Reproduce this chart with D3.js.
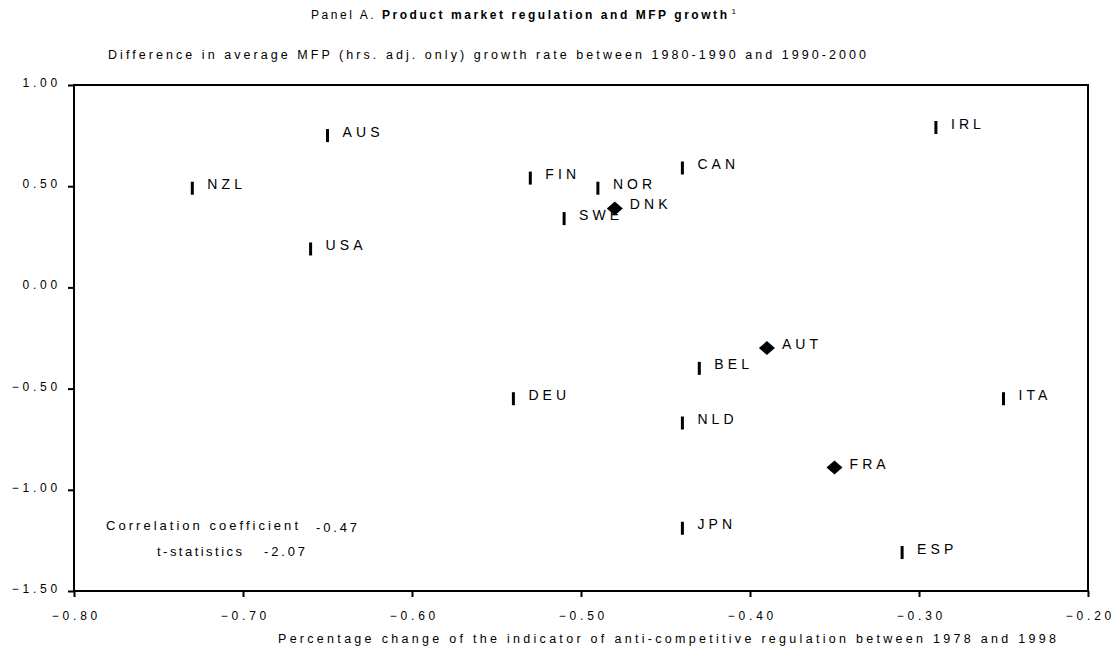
<!DOCTYPE html>
<html><head><meta charset="utf-8">
<script src="https://cdn.jsdelivr.net/npm/d3@7"></script>
<style>
body{margin:0;background:#fff;}
text{font-family:"Liberation Sans",Arial,sans-serif;fill:#000;}
</style></head>
<body><svg id="c" width="1115" height="651"></svg>
<script>
const countries = ["NZL","AUS","USA","FIN","NOR","CAN","SWE","DNK","IRL","AUT","BEL","NLD","DEU","ITA","FRA","JPN","ESP"];
const regChange = [-0.73,-0.65,-0.66,-0.53,-0.49,-0.44,-0.51,-0.48,-0.29,-0.39,-0.43,-0.44,-0.54,-0.25,-0.35,-0.44,-0.31];
const mfpDiff   = [0.49,0.75,0.19,0.54,0.49,0.59,0.34,0.39,0.79,-0.30,-0.40,-0.67,-0.55,-0.55,-0.89,-1.19,-1.31];
const markerType = ["bar","bar","bar","bar","bar","bar","bar","diamond","bar","diamond","bar","bar","bar","bar","diamond","bar","bar"];
const xTicks = [-0.8,-0.7,-0.6,-0.5,-0.4,-0.3,-0.2];
const yTicks = [1.0,0.5,0.0,-0.5,-1.0,-1.5];
const statLabels = ["Correlation coefficient","t-statistics"];
const statValues = ["-0.47","-2.07"];

const svg = d3.select("#c");
const L=74,R=1088,T=85,B=591;
const x = d3.scaleLinear().domain([-0.8,-0.2]).range([L,R]);
const y = d3.scaleLinear().domain([-1.5,1.0]).range([B,T]);
const fmt = d3.format(".2f");

function fit(sel, width){
  sel.style("letter-spacing","0px");
  const node = sel.node();
  const w0 = node.getComputedTextLength();
  const n = node.textContent.length;
  sel.style("letter-spacing", ((width - w0)/(n-1)) + "px");
}

// title
const t = svg.append("text").attr("x",311).attr("y",19).style("font-size","12px");
t.append("tspan").text("Panel A. ");
t.append("tspan").style("font-weight","bold").text("Product market regulation and MFP growth");
fit(t, 416);
t.append("tspan").attr("dy",-5).attr("dx",2).style("font-size","8px").style("letter-spacing","0px").text("1");

svg.append("text").attr("x",108).attr("y",59).style("font-size","12.5px")
  .attr("textLength",758).attr("lengthAdjust","spacing")
  .text("Difference in average MFP (hrs. adj. only) growth rate between 1980-1990 and 1990-2000");

// axes
const ls = 3.8;
const gx = svg.append("g").attr("transform",`translate(0,${B})`)
  .call(d3.axisBottom(x).tickValues(xTicks).tickFormat(fmt).tickSize(6).tickPadding(14.5));
const gy = svg.append("g").attr("transform",`translate(${L},0)`)
  .call(d3.axisLeft(y).tickValues(yTicks).tickFormat(fmt).tickSize(6).tickPadding(7));
[gx,gy].forEach(g=>{
  g.select(".domain").remove();
  g.selectAll("line").attr("stroke","#000").attr("stroke-width",2);
  g.selectAll("text").style("font-size","12px").style("letter-spacing",ls+"px")
    .style("font-family","'Liberation Sans',Arial,sans-serif");
});
gy.selectAll("text").attr("dy","1.5px");
gx.selectAll("text").attr("dy","0.71em").attr("dx",(ls/2)+"px");

svg.append("rect").attr("x",L).attr("y",T).attr("width",R-L).attr("height",B-T)
  .attr("fill","none").attr("stroke","#000").attr("stroke-width",2);

svg.append("text").attr("x",278).attr("y",643).style("font-size","12.5px")
  .attr("textLength",778).attr("lengthAdjust","spacing")
  .text("Percentage change of the indicator of anti-competitive regulation between 1978 and 1998");

// points
const data = countries.map((c,i)=>({c,x:regChange[i],y:mfpDiff[i],m:markerType[i]}));
const g = svg.append("g");
data.forEach(d=>{
  const px=x(d.x), py=y(d.y);
  if(d.m==="bar"){
    g.append("rect").attr("x",px-1.5).attr("y",py-6.5).attr("width",3).attr("height",13).attr("fill","#000");
  } else {
    g.append("path").attr("d",`M${px-8},${py} L${px},${py-7} L${px+8},${py} L${px},${py+7} Z`).attr("fill","#000");
  }
  g.append("text").attr("x",px+15).attr("y",py+1).style("font-size","14px")
    .style("letter-spacing","4.1px").text(d.c);
});

// stats
const statPos = [{lx:106,lw:192,vx:316,vw:41,y:530},{lx:157,lw:85,vx:264,vw:41,y:556}];
statLabels.forEach((s,i)=>{
  const p = statPos[i];
  svg.append("text").attr("x",p.lx).attr("y",p.y).style("font-size","13px")
    .attr("textLength",p.lw).attr("lengthAdjust","spacing").text(s);
  svg.append("text").attr("x",p.vx).attr("y",p.y+ (i===0?1.5:0)).style("font-size","13px")
    .attr("textLength",p.vw).attr("lengthAdjust","spacing").text(statValues[i]);
});
</script></body></html>
